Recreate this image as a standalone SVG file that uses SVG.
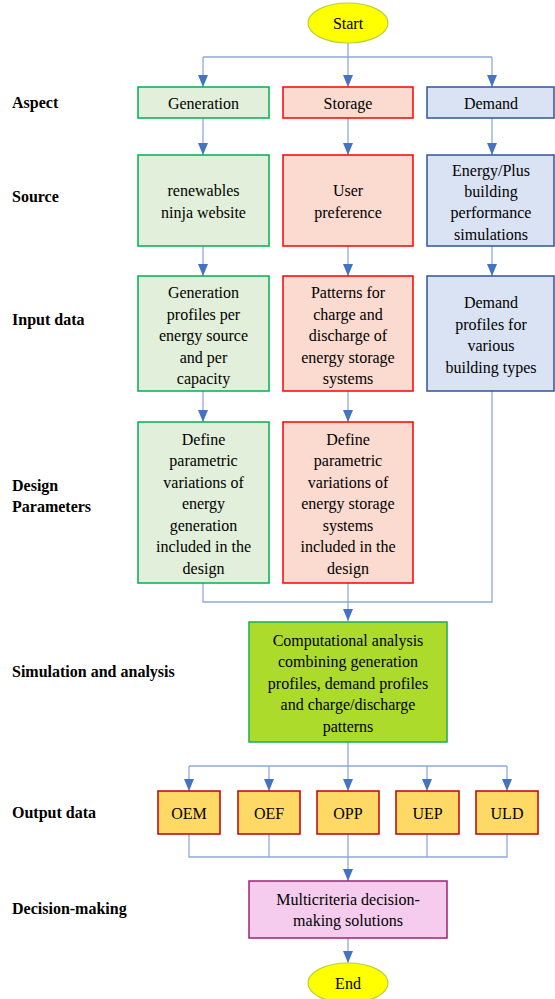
<svg xmlns="http://www.w3.org/2000/svg" width="555" height="999" viewBox="0 0 555 999">
<defs>
<marker id="ah" markerWidth="12" markerHeight="10" refX="12" refY="5" orient="auto" markerUnits="userSpaceOnUse">
<path d="M0,0 L12,5 L0,10 Z" fill="#4472C4"/>
</marker>
<style>
text{font-family:"Liberation Serif","Times New Roman",Times,Tinos,"Noto Serif","DejaVu Serif","Nimbus Roman","FreeSerif",serif;font-size:16px;fill:#000}
.lbl{font-weight:bold}
.n{text-anchor:middle}
.gen{fill:#E2EFDA;stroke:#00B050;stroke-width:1.5}
.sto{fill:#FBDAD0;stroke:#FF0000;stroke-width:1.5}
.dem{fill:#DAE3F3;stroke:#2F5597;stroke-width:1.5}
.sim{fill:#ADDB2B;stroke:#1EAA5A;stroke-width:1.5}
.out{fill:#FFD966;stroke:#C00000;stroke-width:1.5}
.dec{fill:#F6CCEE;stroke:#A02070;stroke-width:1.5}
.term{fill:#FFFF00;stroke:#B8D430;stroke-width:1.2}
.c{fill:none;stroke:#8EA9DB;stroke-width:1.3}
.a{marker-end:url(#ah)}
</style>
</defs>

<g id="labels">
<text class="lbl" x="12" y="108">Aspect</text>
<text class="lbl" x="12" y="202">Source</text>
<text class="lbl" x="12" y="325">Input data</text>
<text class="lbl" x="12" y="491">Design</text>
<text class="lbl" x="12" y="512">Parameters</text>
<text class="lbl" x="12" y="677">Simulation and analysis</text>
<text class="lbl" x="12" y="818">Output data</text>
<text class="lbl" x="12" y="914">Decision-making</text>
</g>

<g id="connectors">
<path class="c" d="M348,43 V57 M203,57 H492"/>
<path class="c a" d="M203,57 V87"/>
<path class="c a" d="M348,57 V87"/>
<path class="c a" d="M492,57 V87"/>
<path class="c a" d="M203,118 V155"/>
<path class="c a" d="M348,118 V155"/>
<path class="c a" d="M492,118 V155"/>
<path class="c a" d="M203,246 V276"/>
<path class="c a" d="M348,246 V276"/>
<path class="c a" d="M492,246 V276"/>
<path class="c a" d="M203,391 V422"/>
<path class="c a" d="M348,391 V422"/>
<path class="c" d="M203,583 V602 H492 V391"/>
<path class="c a" d="M348,583 V621"/>
<path class="c" d="M348,742 V766 M189,766 H507"/>
<path class="c a" d="M189,766 V791"/>
<path class="c a" d="M269,766 V791"/>
<path class="c a" d="M348,766 V791"/>
<path class="c a" d="M427,766 V791"/>
<path class="c a" d="M507,766 V791"/>
<path class="c" d="M189,834 V857 H507 V834 M269,834 V857 M427,834 V857 M348,834 V857"/>
<path class="c a" d="M348,857 V881"/>
<path class="c a" d="M348,938 V963"/>
</g>

<g id="start">
<ellipse class="term" cx="348" cy="23" rx="40" ry="20"/>
<text class="n" x="348" y="28.5">Start</text>
</g>

<g id="generation">
<rect class="gen" x="138" y="87" width="131" height="31"/>
<text class="n" x="203.5" y="108.5">Generation</text>
</g>
<g id="storage">
<rect class="sto" x="283" y="87" width="130" height="31"/>
<text class="n" x="348" y="108.5">Storage</text>
</g>
<g id="demand">
<rect class="dem" x="427" y="87" width="127" height="31"/>
<text class="n" x="491" y="108.5">Demand</text>
</g>

<g id="src-gen">
<rect class="gen" x="138" y="155" width="131" height="91"/>
<text class="n" x="203.5" y="195.5">renewables</text>
<text class="n" x="203.5" y="217.5">ninja website</text>
</g>
<g id="src-sto">
<rect class="sto" x="283" y="155" width="130" height="91"/>
<text class="n" x="348" y="195.5">User</text>
<text class="n" x="348" y="217.5">preference</text>
</g>
<g id="src-dem">
<rect class="dem" x="427" y="155" width="127" height="91"/>
<text class="n" x="491" y="175.5">Energy/Plus</text>
<text class="n" x="491" y="196.5">building</text>
<text class="n" x="491" y="217.5">performance</text>
<text class="n" x="491" y="239.5">simulations</text>
</g>

<g id="in-gen">
<rect class="gen" x="138" y="276" width="131" height="115"/>
<text class="n" x="203.5" y="297.5">Generation</text>
<text class="n" x="203.5" y="319.5">profiles per</text>
<text class="n" x="203.5" y="340.5">energy source</text>
<text class="n" x="203.5" y="362.5">and per</text>
<text class="n" x="203.5" y="383.5">capacity</text>
</g>
<g id="in-sto">
<rect class="sto" x="283" y="276" width="130" height="115"/>
<text class="n" x="348" y="297.5">Patterns for</text>
<text class="n" x="348" y="319.5">charge and</text>
<text class="n" x="348" y="340.5">discharge of</text>
<text class="n" x="348" y="362.5">energy storage</text>
<text class="n" x="348" y="383.5">systems</text>
</g>
<g id="in-dem">
<rect class="dem" x="427" y="276" width="127" height="115"/>
<text class="n" x="491" y="307.5">Demand</text>
<text class="n" x="491" y="329.5">profiles for</text>
<text class="n" x="491" y="350.5">various</text>
<text class="n" x="491" y="372.5">building types</text>
</g>

<g id="dp-gen">
<rect class="gen" x="138" y="422" width="131" height="161"/>
<text class="n" x="203.5" y="444.5">Define</text>
<text class="n" x="203.5" y="466">parametric</text>
<text class="n" x="203.5" y="487.5">variations of</text>
<text class="n" x="203.5" y="509">energy</text>
<text class="n" x="203.5" y="530.5">generation</text>
<text class="n" x="203.5" y="552">included in the</text>
<text class="n" x="203.5" y="573.5">design</text>
</g>
<g id="dp-sto">
<rect class="sto" x="283" y="422" width="130" height="161"/>
<text class="n" x="348" y="444.5">Define</text>
<text class="n" x="348" y="466">parametric</text>
<text class="n" x="348" y="487.5">variations of</text>
<text class="n" x="348" y="509">energy storage</text>
<text class="n" x="348" y="530.5">systems</text>
<text class="n" x="348" y="552">included in the</text>
<text class="n" x="348" y="573.5">design</text>
</g>

<g id="simulation">
<rect class="sim" x="249" y="622" width="198" height="120"/>
<text class="n" x="348" y="645.5">Computational analysis</text>
<text class="n" x="348" y="667">combining generation</text>
<text class="n" x="348" y="688.5">profiles, demand profiles</text>
<text class="n" x="348" y="710">and charge/discharge</text>
<text class="n" x="348" y="731.5">patterns</text>
</g>

<g id="oem">
<rect class="out" x="158" y="791" width="62" height="43"/>
<text class="n" x="189" y="818.5">OEM</text>
</g>
<g id="oef">
<rect class="out" x="238" y="791" width="62" height="43"/>
<text class="n" x="269" y="818.5">OEF</text>
</g>
<g id="opp">
<rect class="out" x="317" y="791" width="62" height="43"/>
<text class="n" x="348" y="818.5">OPP</text>
</g>
<g id="uep">
<rect class="out" x="396" y="791" width="63" height="43"/>
<text class="n" x="427.5" y="818.5">UEP</text>
</g>
<g id="uld">
<rect class="out" x="476" y="791" width="62" height="43"/>
<text class="n" x="507" y="818.5">ULD</text>
</g>

<g id="decision">
<rect class="dec" x="249" y="881" width="198" height="57"/>
<text class="n" x="348" y="904.5">Multicriteria decision-</text>
<text class="n" x="348" y="925.5">making solutions</text>
</g>

<g id="end">
<ellipse class="term" cx="348" cy="983" rx="40" ry="20"/>
<text class="n" x="348" y="989">End</text>
</g>
</svg>
